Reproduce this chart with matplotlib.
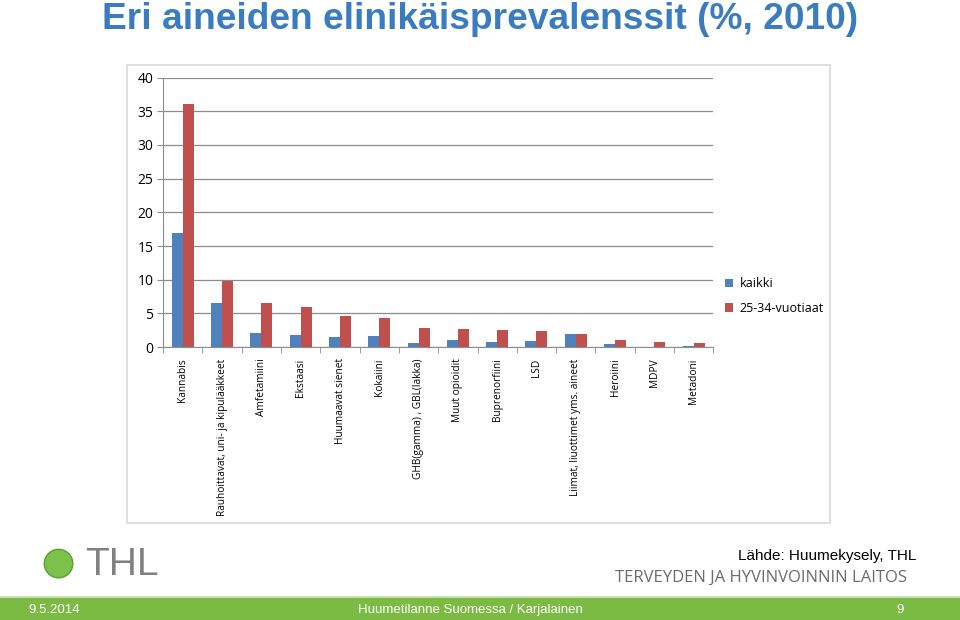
import numpy as np
import matplotlib.pyplot as plt
from matplotlib.patches import Rectangle, Ellipse

# data
categories = ["Kannabis", "Rauhoittavat, uni- ja kipulääkkeet", "Amfetamiini",
              "Ekstaasi", "Huumaavat sienet", "Kokaiini", "GHB(gamma) , GBL(lakka)",
              "Muut opioidit", "Buprenorfiini", "LSD", "Liimat, liuottimet yms. aineet",
              "Heroiini", "MDPV", "Metadoni"]
kaikki = [16.9, 6.5, 2.1, 1.8, 1.5, 1.6, 0.6, 1.0, 0.8, 0.9, 1.9, 0.5, 0.1, 0.2]
nuoret = [36.0, 9.8, 6.5, 5.9, 4.7, 4.3, 2.8, 2.7, 2.6, 2.4, 1.9, 1.1, 0.7, 0.55]
series_names = ["kaikki", "25-34-vuotiaat"]
yticks = [0, 5, 10, 15, 20, 25, 30, 35, 40]

blue = "#4f81bd"
red = "#c0504d"

fig = plt.figure(figsize=(9.6, 6.2), dpi=100)
fig.patch.set_facecolor("white")

# outer chart frame
fig.patches.append(Rectangle((0.132, 0.156), 0.733, 0.739, transform=fig.transFigure,
                             fill=False, edgecolor="#d9d9d9", lw=1.2, zorder=-1))

ax = fig.add_axes([0.170, 0.440, 0.573, 0.435])
x = np.arange(len(categories))
w = 0.28
ax.bar(x - w / 2, kaikki, w, color=blue, label=series_names[0])
ax.bar(x + w / 2, nuoret, w, color=red, label=series_names[1])

ax.set_xlim(-0.5, len(categories) - 0.5)
ax.set_ylim(0, 40)
ax.set_yticks(yticks)
ax.set_yticklabels([str(v) for v in yticks], fontsize=10, family="Open Sans")
ax.yaxis.grid(True, color="#8c8c8c", lw=0.9)
ax.set_axisbelow(True)
for s in ["top", "right"]:
    ax.spines[s].set_visible(False)
ax.spines["left"].set_color("#8c8c8c")
ax.spines["bottom"].set_color("#8c8c8c")
ax.tick_params(axis="y", length=4, color="#8c8c8c", pad=3)

ax.set_xticks(x)
ax.set_xticklabels(categories, rotation=90, fontsize=7.3, family="Open Sans", va="top")
ax.tick_params(axis="x", length=0, pad=8)
ax.set_xticks(np.arange(-0.5, len(categories)), minor=True)
ax.tick_params(axis="x", which="minor", length=4, color="#8c8c8c")

ax.legend(loc="center left", bbox_to_anchor=(1.0, 0.19), frameon=False,
          prop={"family": "Open Sans", "size": 9}, handlelength=0.7, handleheight=0.7,
          handletextpad=0.5, labelspacing=0.9)

# title
fig.text(0.5, 0.968, "Eri aineiden elinikäisprevalenssit (%, 2010)", ha="center", va="center",
         fontsize=26.7, fontweight="bold", color="#3a7cc0", family="Liberation Sans")

# logo and source
r = 0.023
fig.patches.append(Ellipse((0.061, 0.091), 2 * r * 620 / 960, 2 * r, transform=fig.transFigure,
                           facecolor="#7cc24a", edgecolor="#5a9e34"))
fig.text(0.089, 0.089, "THL", fontsize=28, color="#808080", va="center", ha="left",
         family="Liberation Sans")
fig.text(0.955, 0.103, "Lähde: Huumekysely, THL", fontsize=11, ha="right", va="center",
         family="Liberation Sans", color="black")
fig.text(0.945, 0.068, "TERVEYDEN JA HYVINVOINNIN LAITOS", fontsize=12, ha="right",
         va="center", family="Open Sans", color="#6b6b6b")

# footer bar
fig.patches.append(Rectangle((0, 0), 1, 0.036, transform=fig.transFigure,
                             facecolor="#7bbb44", edgecolor="none"))
fig.patches.append(Rectangle((0, 0.036), 1, 0.003, transform=fig.transFigure,
                             facecolor="#c8e0b0", edgecolor="none"))
fig.text(0.030, 0.016, "9.5.2014", fontsize=9.5, color="white", va="center",
         family="Liberation Sans")
fig.text(0.49, 0.016, "Huumetilanne Suomessa / Karjalainen", fontsize=9.5, color="white",
         va="center", ha="center", family="Liberation Sans")
fig.text(0.938, 0.016, "9", fontsize=9.5, color="white", va="center", ha="center",
         family="Liberation Sans")

fig.savefig("out.png", dpi=100)
